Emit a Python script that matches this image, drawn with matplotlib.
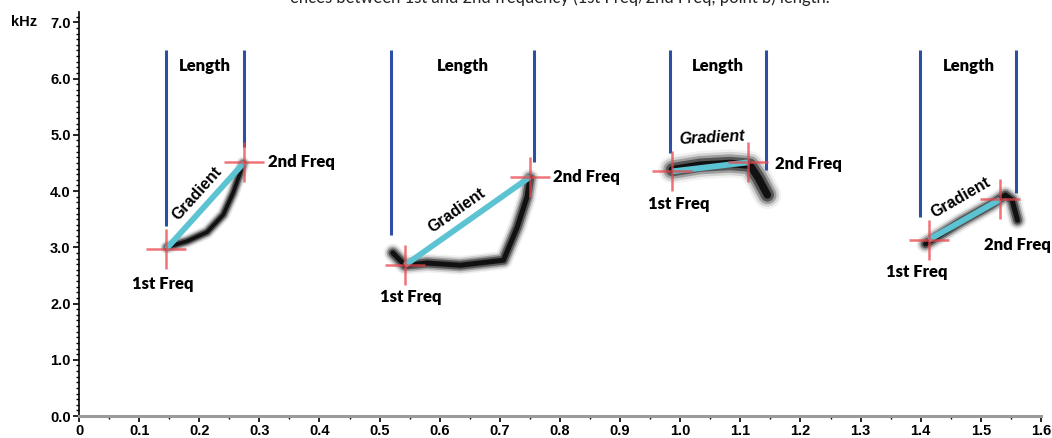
import matplotlib
matplotlib.use("Agg")
import matplotlib.pyplot as plt
import numpy as np
from matplotlib import ticker

# --- dati (x in s, y in kHz) ---
lunghezza_sx = [0.145, 0.519, 0.983, 1.398]      # linea blu sinistra
lunghezza_sx_basso = [3.37, 3.21, 4.67, 3.53]
lunghezza_dx = [0.275, 0.757, 1.143, 1.559]      # linea blu destra
lunghezza_dx_basso = [4.78, 4.51, 4.37, 3.96]
lunghezza_alto = 6.50

freq1_x = [0.145, 0.542, 0.987, 1.413]
freq1_y = [2.97, 2.68, 4.35, 3.13]
freq2_x = [0.275, 0.750, 1.113, 1.532]
freq2_y = [4.51, 4.25, 4.51, 3.85]

# tracce dello spettrogramma
traccia_x = [
    [0.146, 0.180, 0.213, 0.240, 0.256, 0.268, 0.273],
    [0.522, 0.542, 0.579, 0.634, 0.706, 0.729, 0.745, 0.750],
    [0.987, 1.033, 1.083, 1.116, 1.130, 1.145],
    [1.408, 1.466, 1.516, 1.541, 1.552, 1.561],
]
traccia_y = [
    [3.00, 3.11, 3.27, 3.58, 3.96, 4.32, 4.49],
    [2.90, 2.68, 2.72, 2.68, 2.77, 3.36, 3.89, 4.23],
    [4.38, 4.46, 4.49, 4.46, 4.23, 3.93],
    [3.06, 3.45, 3.75, 3.93, 3.84, 3.48],
]
spessore_traccia = [6, 8, 12, 8]

# etichette
gradiente_pos = [(0.196, 3.96, 48), (0.629, 3.66, 35), (1.053, 4.94, 3), (1.466, 3.89, 30)]
etichetta1_pos = [(0.140, 2.34), (0.551, 2.11), (0.997, 3.77), (1.393, 2.56)]
etichetta2_pos = [(0.315, 4.51), (0.789, 4.25), (1.158, 4.48), (1.561, 3.04)]
length_pos = [(0.210, 6.22), (0.639, 6.22), (1.062, 6.22), (1.480, 6.22)]

x_ticks = [0, 0.1, 0.2, 0.3, 0.4, 0.5, 0.6, 0.7, 0.8, 0.9, 1.0, 1.1, 1.2, 1.3, 1.4, 1.5, 1.6]
x_labels = ['0', '0.1', '0.2', '0.3', '0.4', '0.5', '0.6', '0.7', '0.8', '0.9', '1.0',
            '1.1', '1.2', '1.3', '1.4', '1.5', '1.6']
y_ticks = [0, 1, 2, 3, 4, 5, 6, 7]
y_labels = ['0.0', '1.0', '2.0', '3.0', '4.0', '5.0', '6.0', '7.0']

didascalia = "ences between 1st and 2nd frequency (1st Freq/2nd Freq; point b) length."

blu = '#2e4fa6'
ciano = '#5cc3d3'
rosso = '#e8464c'
font_num = ['Liberation Sans Narrow', 'Liberation Sans', 'DejaVu Sans']
font_etich = ['Lato', 'DejaVu Sans']


def disegna_traccia(ax, xs, ys, lw):
    # effetto sfocato: linee sovrapposte sempre piu' sottili e scure
    for f, a in [(1.7, 0.05), (1.4, 0.12), (1.1, 0.25), (0.8, 0.45), (0.45, 0.8)]:
        ax.plot(xs, ys, color='black', lw=lw * f, alpha=a, solid_capstyle='round',
                solid_joinstyle='round', zorder=2)


def main():
    fig = plt.figure(figsize=(10.52, 4.38), dpi=100)
    ax = fig.add_axes([0.0751, 0.0502, 0.9144, 0.922])
    ax.set_xlim(0, 1.6)
    ax.set_ylim(0, 7.18)

    for i in range(4):
        ax.vlines(lunghezza_sx[i], lunghezza_sx_basso[i], lunghezza_alto, color=blu, lw=2.2, zorder=3)
        ax.vlines(lunghezza_dx[i], lunghezza_dx_basso[i], lunghezza_alto, color=blu, lw=2.2, zorder=3)
        disegna_traccia(ax, traccia_x[i], traccia_y[i], spessore_traccia[i])
        ax.plot([freq1_x[i], freq2_x[i]], [freq1_y[i], freq2_y[i]], color=ciano, lw=4.2,
                solid_capstyle='butt', zorder=4)
        ax.plot([freq1_x[i], freq2_x[i]], [freq1_y[i], freq2_y[i]], ls='none', marker='+',
                markersize=29, mew=1.8, color=rosso, alpha=0.75, zorder=5)

        gx, gy, rot = gradiente_pos[i]
        ax.text(gx, gy, 'Gradient', rotation=rot, ha='center', va='center', fontsize=11.5,
                fontweight='bold', style='italic' if i == 2 else 'normal',
                family=['Liberation Sans', 'DejaVu Sans'], rotation_mode='anchor', zorder=6)
        lx, ly = length_pos[i]
        ax.text(lx, ly, 'Length', ha='center', va='center', fontsize=12, fontweight='heavy',
                family=font_etich)
        ex, ey = etichetta1_pos[i]
        ax.text(ex, ey, '1st Freq', ha='center', va='center', fontsize=12, fontweight='heavy',
                family=font_etich)
        ex, ey = etichetta2_pos[i]
        ax.text(ex, ey, '2nd Freq', ha='left' if i < 3 else 'center', va='center', fontsize=12,
                fontweight='heavy', family=font_etich)

    # assi
    for s in ['top', 'right']:
        ax.spines[s].set_visible(False)
    ax.spines['left'].set_linewidth(1.2)
    ax.spines['bottom'].set_linewidth(2.2)
    ax.spines['bottom'].set_color('#9a9a9a')

    ax.set_xticks(x_ticks)
    ax.set_xticklabels(x_labels, fontsize=10.5, fontweight='bold', family=font_num)
    ax.set_yticks(y_ticks)
    ax.set_yticklabels(y_labels, fontsize=10.5, fontweight='bold', family=font_num)
    ax.xaxis.set_minor_locator(ticker.MultipleLocator(0.05))
    ax.yaxis.set_minor_locator(ticker.MultipleLocator(0.1))
    ax.tick_params(axis='both', which='major', length=4, width=1.2, direction='out', pad=2)
    ax.tick_params(axis='both', which='minor', length=2, width=1)

    ax.text(-0.092, 7.0, 'kHz', ha='center', va='center', fontsize=10.5, fontweight='bold',
            family=['Liberation Sans', 'DejaVu Sans'], clip_on=False)

    fig.text(0.532, 1.005, didascalia, ha='center', va='center', fontsize=12, color='#222222',
             family=font_etich)

    fig.savefig('out.png', dpi=100)


if __name__ == "__main__":
    main()
